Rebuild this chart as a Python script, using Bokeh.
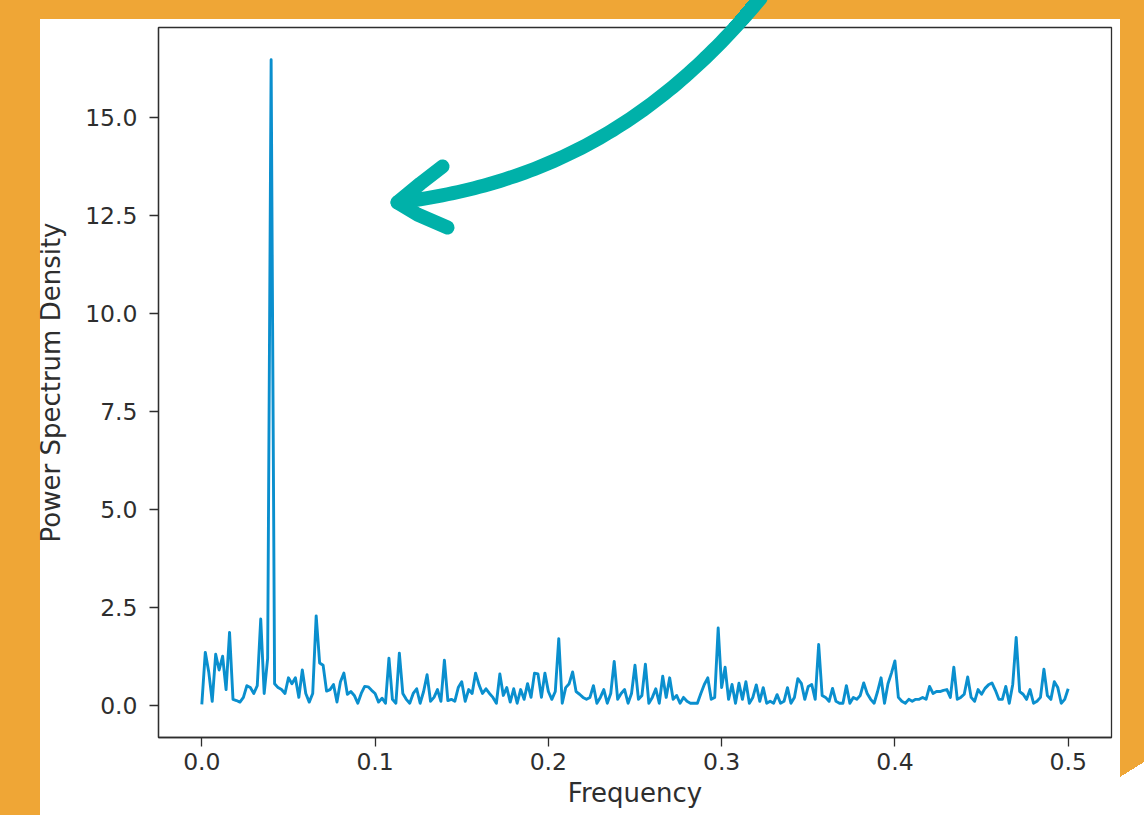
import numpy as np
from bokeh.plotting import figure
from bokeh.models import Range1d, FixedTicker, PrintfTickFormatter
from bokeh.embed import file_html
from bokeh.resources import INLINE

# ---------------- data ----------------
freq = np.linspace(0.0, 0.5, 251)
psd = [
    0.02, 1.35, 0.85, 0.10, 1.30, 0.90, 1.25, 0.40, 1.86, 0.15,
    0.12, 0.08, 0.20, 0.50, 0.45, 0.30, 0.50, 2.20, 0.30, 1.20,
    16.48, 0.55, 0.45, 0.40, 0.30, 0.70, 0.55, 0.70, 0.20, 0.90,
    0.30, 0.08, 0.30, 2.28, 1.08, 1.02, 0.36, 0.40, 0.53, 0.08,
    0.60, 0.82, 0.28, 0.35, 0.25, 0.05, 0.30, 0.48, 0.47, 0.38,
    0.30, 0.08, 0.18, 0.05, 1.20, 0.15, 0.05, 1.33, 0.30, 0.15,
    0.05, 0.30, 0.42, 0.05, 0.35, 0.78, 0.10, 0.20, 0.40, 0.10,
    1.15, 0.12, 0.15, 0.10, 0.45, 0.60, 0.10, 0.40, 0.30, 0.82,
    0.52, 0.30, 0.42, 0.30, 0.20, 0.05, 0.80, 0.25, 0.45, 0.08,
    0.42, 0.05, 0.40, 0.15, 0.55, 0.20, 0.82, 0.80, 0.20, 0.82,
    0.35, 0.15, 0.35, 1.70, 0.05, 0.45, 0.55, 0.85, 0.35, 0.28,
    0.20, 0.15, 0.20, 0.50, 0.05, 0.20, 0.40, 0.05, 0.30, 1.12,
    0.15, 0.30, 0.40, 0.05, 0.30, 1.02, 0.15, 0.25, 1.05, 0.05,
    0.20, 0.42, 0.05, 0.74, 0.20, 0.70, 0.15, 0.25, 0.05, 0.20,
    0.10, 0.05, 0.05, 0.05, 0.30, 0.53, 0.70, 0.15, 0.20, 1.97,
    0.45, 0.97, 0.15, 0.53, 0.05, 0.56, 0.15, 0.60, 0.05, 0.20,
    0.52, 0.10, 0.45, 0.05, 0.10, 0.05, 0.27, 0.05, 0.10, 0.45,
    0.05, 0.20, 0.68, 0.56, 0.15, 0.48, 0.53, 0.15, 1.55, 0.25,
    0.20, 0.10, 0.43, 0.10, 0.05, 0.05, 0.50, 0.05, 0.20, 0.15,
    0.25, 0.57, 0.30, 0.15, 0.05, 0.35, 0.70, 0.05, 0.55, 0.82,
    1.13, 0.20, 0.10, 0.05, 0.15, 0.10, 0.15, 0.15, 0.20, 0.15,
    0.48, 0.30, 0.35, 0.35, 0.38, 0.40, 0.20, 0.97, 0.15, 0.20,
    0.28, 0.72, 0.20, 0.10, 0.40, 0.28, 0.43, 0.52, 0.57, 0.38,
    0.15, 0.15, 0.48, 0.05, 0.53, 1.73, 0.35, 0.28, 0.15, 0.40,
    0.05, 0.10, 0.20, 0.92, 0.25, 0.15, 0.60, 0.45, 0.05, 0.15,
    0.42,
]
x_ticks = [0.0, 0.1, 0.2, 0.3, 0.4, 0.5]
y_ticks = [0.0, 2.5, 5.0, 7.5, 10.0, 12.5, 15.0]
x_label = "Frequency"
y_label = "Power Spectrum Density"

# ---------------- styling constants ----------------
ORANGE = "#EFA636"
TEAL = "#00B1A9"
LINE = "#0A8FCE"
INK = "#2E2E2E"
FONT = "DejaVu Sans"

W, H = 1144, 815
L, R, T, B = 158, 33, 27, 78

# page decoration (orange surround + top of the arrow), painted behind the canvas
layers = [
    (f"linear-gradient(129.9deg, transparent 37.7px, {TEAL} 37.7px, {TEAL} 51.7px, transparent 51.7px)",
     "700px 0px", "80px 27px"),
    (f"linear-gradient({ORANGE}, {ORANGE})", "0px 0px", "100% 19px"),
    (f"linear-gradient({ORANGE}, {ORANGE})", "0px 0px", "40px 100%"),
    (f"linear-gradient(to bottom right, {ORANGE} 50%, transparent 50%)", "1120px 762px", "24px 15px"),
    (f"linear-gradient({ORANGE}, {ORANGE})", "1120px 0px", "24px 762px"),
]
page_styles = {
    "background-color": "white",
    "background-image": ", ".join(l[0] for l in layers),
    "background-position": ", ".join(l[1] for l in layers),
    "background-size": ", ".join(l[2] for l in layers),
    "background-repeat": "no-repeat",
}

ymax = max(psd)
ypad = 0.05 * ymax
p = figure(width=W, height=H, output_backend="svg", toolbar_location=None,
           x_range=Range1d(-0.025, 0.525), y_range=Range1d(-ypad, ymax + ypad),
           min_border_left=L, min_border_right=R, min_border_top=T, min_border_bottom=B,
           styles=page_styles)
p.title.visible = False
p.background_fill_color = "white"
p.border_fill_alpha = 0
p.outline_line_color = INK
p.outline_line_width = 1.3
p.grid.visible = False

# pixel ranges: value == canvas pixel (y measured from top)
p.extra_x_ranges = {"px": Range1d(L, W - R)}
p.extra_y_ranges = {"px": Range1d(H - B, T)}

for ax in (p.xaxis[0], p.yaxis[0]):
    ax.axis_line_color = INK
    ax.axis_line_width = 1.3
    ax.major_tick_line_color = INK
    ax.major_tick_line_width = 1.3
    ax.major_tick_out = 9
    ax.major_tick_in = 0
    ax.minor_tick_line_color = None
    ax.major_label_text_font = FONT
    ax.major_label_text_font_size = "23.5px"
    ax.major_label_text_color = INK
    ax.formatter = PrintfTickFormatter(format="%.1f")
    ax.axis_label_text_font = FONT
    ax.axis_label_text_font_size = "26px"
    ax.axis_label_text_font_style = "normal"
    ax.axis_label_text_color = INK

p.xaxis[0].ticker = FixedTicker(ticks=x_ticks)
p.yaxis[0].ticker = FixedTicker(ticks=y_ticks)
p.xaxis[0].major_label_standoff = 6
p.yaxis[0].major_label_standoff = 12
p.xaxis[0].axis_label = x_label
p.xaxis[0].axis_label_standoff = 5
p.yaxis[0].axis_label = y_label
p.yaxis[0].axis_label_standoff = 16

p.line(freq, psd, line_color=LINE, line_width=2.9, line_join="round")

# teal arrow inside the frame (decoration, pixel coordinates)
t = np.linspace(0, 1, 80)
S, C1, C2, E = (760, -2), (658, 120), (548, 183), (397, 202)
cx = (1 - t) ** 3 * S[0] + 3 * (1 - t) ** 2 * t * C1[0] + 3 * (1 - t) * t ** 2 * C2[0] + t ** 3 * E[0]
cy = (1 - t) ** 3 * S[1] + 3 * (1 - t) ** 2 * t * C1[1] + 3 * (1 - t) * t ** 2 * C2[1] + t ** 3 * E[1]
p.line(cx, cy, x_range_name="px", y_range_name="px", line_color=TEAL, line_width=14,
       line_cap="round", line_join="round", level="overlay")
p.line([442, 420, 397, 417, 447], [166, 183, 202, 214, 227], x_range_name="px", y_range_name="px",
       line_color=TEAL, line_width=14, line_cap="round", line_join="round", level="overlay")

open("out.html", "w").write(file_html(p, INLINE))
